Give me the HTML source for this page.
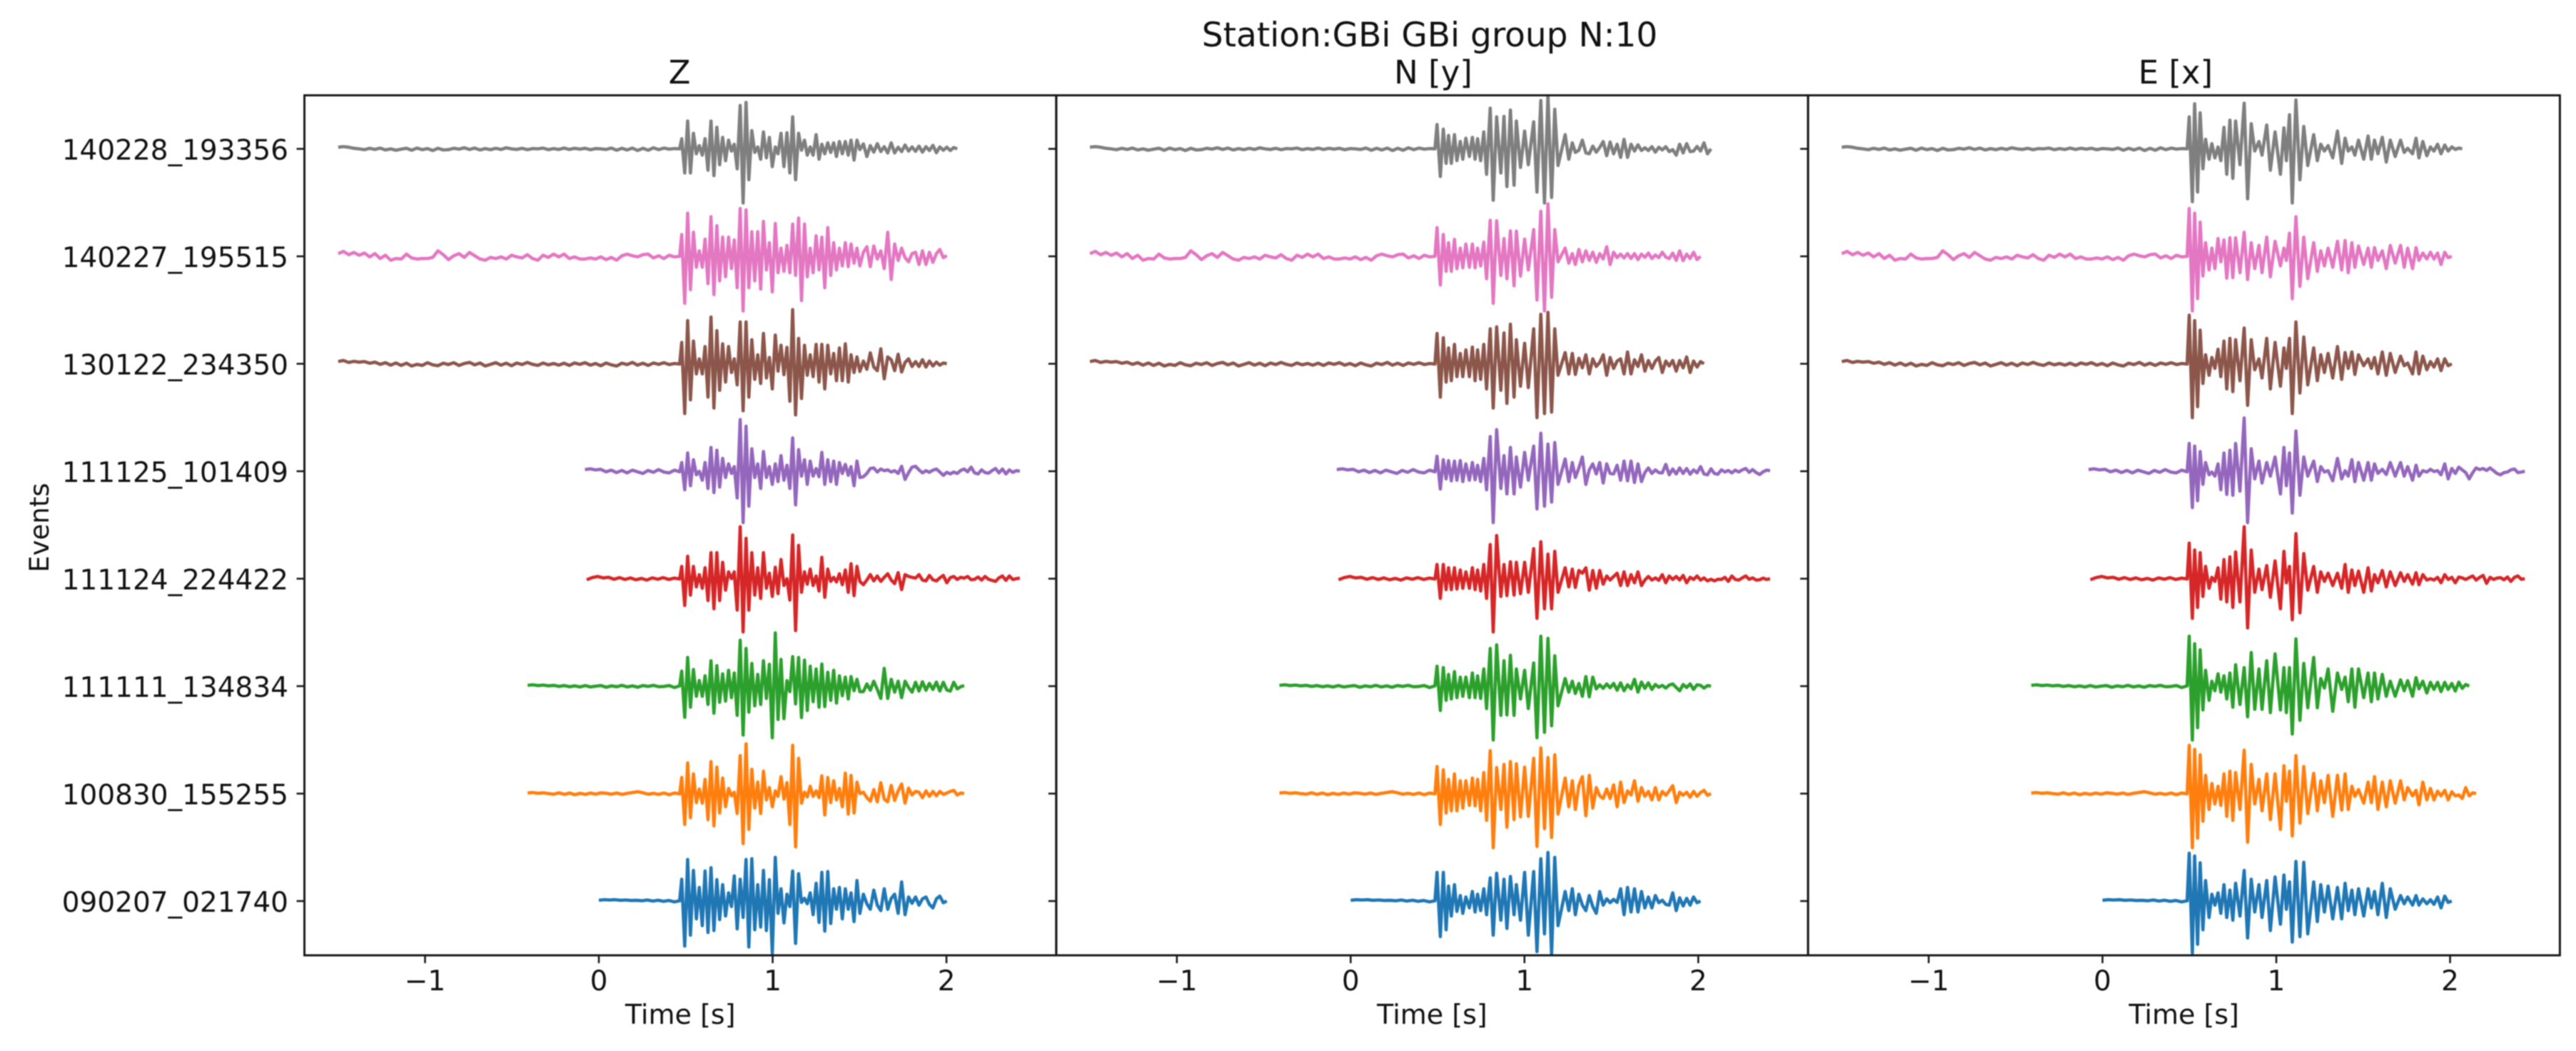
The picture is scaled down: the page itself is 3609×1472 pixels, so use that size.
<!DOCTYPE html>
<html lang="en">
<head>
<meta charset="utf-8">
<title>Station:GBi GBi group N:10</title>
<style>
html,body{margin:0;padding:0;background:#fff;}
svg{display:block;filter:blur(0.9px);font-family:"DejaVu Sans","Liberation Sans",sans-serif;fill:#111;}
</style>
</head>
<body>
<svg id="chart" xmlns="http://www.w3.org/2000/svg" width="3609" height="1472" viewBox="0 0 3609 1472">
  <rect x="0" y="0" width="3609" height="1472" fill="#fff"/>
  <text x="2003" y="65" font-size="47" text-anchor="middle">Station:GBi GBi group N:10</text>
  <text x="952" y="117" font-size="45" text-anchor="middle">Z</text>
  <text x="2008" y="117" font-size="45" text-anchor="middle">N [y]</text>
  <text x="3048" y="117" font-size="45" text-anchor="middle">E [x]</text>
  <text transform="translate(68,739) rotate(-90)" font-size="37" text-anchor="middle">Events</text>
  <g id="layer"></g>
</svg>
<script>
// ---------- categories and labels ----------
const eventLabels = ['090207_021740','100830_155255','111111_134834','111124_224422','111125_101409','130122_234350','140227_195515','140228_193356'];
const traceColors = ['#1f77b4','#ff7f0e','#2ca02c','#d62728','#9467bd','#8c564b','#e377c2','#7f7f7f'];
const timeTicks = [-1,0,1,2];
const startTimes = [0,-0.41,-0.41,-0.07,-0.08,-1.5,-1.5,-1.5];

// ---------- pre-onset noise per event (amplitude units) ----------
const noiseBlue = [3,5,4,5,3,4,2,3,1,4,0,3,-1,2,-3,1];
const noiseOrange = [2,4,1,3,0,-2,3,-3,2,-4,1,-3,2,-2,3,1,-2,2,-3,1,4,7,3,-2,1,-3,2,-4,2,-1];
const noiseGreen = [3,5,2,4,1,3,-1,2,-2,1,-3,2,-3,0,2,-4,1,-2,3,-3,1,-4,2,-1,3,-2,-1,2,-5,1];
const noiseRed = [-4,4,8,3,5,-2,4,-3,3,-4,1,-5,3,-2,4,-3,2,-1];
const noisePurple = [6,9,5,7,-2,4,-5,3,-6,4,-2,-8,3,-4,6,-3,-6,4,-2];
const noiseBrown = [8,12,5,9,6,8,2,6,-2,4,-5,3,-6,2,-8,-2,-6,4,-4,-7,2,-3,4,-6,1,5,-4,3,-8,-2,4,-5,2,-7,3,-3,5,-2,-6,3,-4,1,-5,2,-6,3,-2,4,-5,1,-7,3,-4,-8,2,-3,5,-5,2,-6,3,-2,4,-3,1,-1];
const noisePink = [10,18,6,14,4,12,-2,10,-8,4,-14,-8,-10,8,-6,-10,-8,-8,-4,20,6,-12,2,10,-4,14,2,-10,-14,-4,-8,-2,-10,4,-2,-6,6,-8,-14,4,-4,8,-2,8,-8,-2,-10,-10,-6,-10,-2,-12,-4,-14,2,8,2,-2,6,8,-6,2,-8,4,-2,0];
const noiseGray = [6,8,6,2,0,-3,2,-2,3,-4,0,-5,-1,2,-5,3,-3,1,-6,2,-4,-3,2,-1,4,-2,3,-4,1,-3,2,-2,4,0,-2,2,-3,1,0,3,-3,1,-2,3,-2,2,-1,2,-3,1,0,-2,3,-5,2,-4,3,-6,2,-5,4,-3,3,-1,1,0];
const preNoise = [noiseBlue,noiseOrange,noiseGreen,noiseRed,noisePurple,noiseBrown,noisePink,noiseGray];

// ---------- extrema sample times (s); samples past the end continue at tailStep ----------
const tailStep = 0.02;
const zTimes = [0.477,0.494,0.511,0.527,0.544,0.561,0.578,0.595,0.611,0.628,0.645,0.662,0.679,0.695,0.712,0.729,0.746,0.763,0.779,0.796,0.813,0.830,0.847,0.863,0.880,0.897,0.914,0.931,0.947,0.964,0.981,0.998,1.015,1.031,1.048,1.065,1.082,1.099,1.115,1.132,1.149,1.166,1.183,1.199,1.216,1.233,1.250,1.267,1.283,1.300,1.317,1.334,1.351,1.367,1.384,1.401,1.418,1.435,1.451,1.468,1.485,1.502];
const nTimes = [0.497,0.516,0.533,0.549,0.563,0.579,0.597,0.611,0.631,0.645,0.663,0.683,0.700,0.716,0.730,0.748,0.766,0.782,0.803,0.820,0.840,0.864,0.882,0.899,0.919,0.940,0.953,0.977,1.001,1.022,1.053,1.072,1.094,1.115,1.135,1.156,1.174,1.193,1.234,1.255,1.275,1.293];
const eTimes = [0.499,0.517,0.530,0.547,0.562,0.578,0.593,0.613,0.629,0.647,0.665,0.681,0.699,0.715,0.733,0.750,0.766,0.791,0.815,0.835,0.856,0.876,0.900,0.918,0.945,0.966,0.993,1.024,1.044,1.058,1.076,1.092,1.113,1.136,1.158,1.181,1.215,1.236,1.256,1.277,1.298,1.325,1.352,1.376,1.396,1.414,1.435,1.452,1.473,1.503,1.528,1.547,1.565,1.585,1.610,1.633,1.656,1.684,1.715,1.736,1.756,1.784,1.804,1.821,1.843,1.866,1.887,1.907,1.928,1.948,1.969,1.989,2.010];

// ---------- Z component amplitudes, bottom row to top row ----------
const zBlue = [80,-165,152,-125,112,-65,50,-90,110,-115,122,-108,78,-68,60,-55,30,-20,92,-102,80,-60,152,-168,155,-105,60,-95,112,-108,78,-190,160,-45,45,-80,25,-20,110,-155,100,-5,10,-10,30,-50,65,-78,105,-110,108,-82,45,-30,50,-65,45,-30,30,-75,75,-45,
 25,-10,-30,40,-15,-35,45,-30,10,25,-45,70,-50,15,-8,15,-15,8,15,-12,-25,8,18,-6,0];
const zOrange = [59,-113,112,-88,72,-33,17,-35,52,-95,117,-118,97,-71,57,-48,19,-8,5,-73,139,-183,182,-131,89,-53,42,-73,82,-23,22,-48,10,-10,62,-20,40,-113,177,-195,129,-35,5,-12,27,-10,10,-15,65,-78,59,-33,47,-23,19,-48,75,-75,67,-71,42,0,
 5,-15,-28,15,-30,40,-20,-30,30,-25,10,35,-35,20,-5,8,5,-15,10,-10,8,-8,8,-3,2,8,12,-5,2,0];
const zGreen = [55,-114,105,-77,61,-37,21,-37,38,-67,93,-99,75,-59,45,-55,58,-42,48,-107,168,-179,138,-95,83,-72,43,-67,93,-45,80,-189,195,-122,98,-119,20,-20,108,-65,105,-115,95,-89,73,-57,63,-77,81,-75,51,-52,58,-62,38,-35,33,-47,35,-17,25,-20,
 -20,8,-15,18,-12,-45,65,-45,25,-22,18,-42,18,-5,-22,14,-18,16,-15,10,-12,15,-18,14,-14,-18,14,-10,-2,2];
const zRed = [45,-98,82,-60,45,-30,15,-35,40,-80,95,-110,95,-80,60,-42,25,0,25,-115,190,-195,148,-115,95,-60,40,-72,95,-35,20,-65,42,-55,70,-25,0,-78,160,-190,122,-50,25,-20,35,-25,10,-45,78,-68,35,-10,5,-12,18,-22,32,-50,55,-62,45,-10,
 -22,-5,15,-8,10,-10,5,18,-5,-18,22,-40,15,8,5,2,15,-5,-8,12,-4,-8,3,12,-15,4,8,-3,5,2,8,-4,-2,6,-5,8,-2,-6,-10,3,10,-6,10,-3,0,2];
const zPurple = [32,-68,67,-53,42,-13,0,-33,32,-63,87,-78,77,-58,47,-23,27,-8,17,-98,189,-188,165,-128,82,-23,27,-63,72,-23,17,-48,27,-38,57,-33,22,-63,122,-123,79,-18,42,-48,37,-18,10,-20,69,-48,42,-38,37,-48,32,-8,25,-15,17,-53,37,-23,
 -20,-8,10,12,-3,8,2,5,-3,2,-8,18,-30,-5,15,18,5,-6,2,-4,4,8,-3,-15,-4,-10,-3,-8,3,8,-2,15,-6,-10,5,-5,-7,2,10,-6,8,-10,5,-4,2,0];
const zBrown = [78,-182,158,-132,83,-37,18,-37,63,-122,171,-162,121,-97,73,-67,63,-32,18,-77,153,-172,153,-122,88,-57,33,-72,111,-52,23,-92,105,-27,68,-40,60,-137,198,-187,93,-127,68,-42,33,-47,71,-67,71,-92,68,-37,38,-62,58,-62,73,-67,33,-32,25,-28,
 10,-20,40,-12,-25,55,-55,25,15,-25,35,-30,5,18,-10,8,-10,15,-12,10,-8,6,-5,3,0];
const zPink = [80,-172,158,-122,88,-40,20,-40,63,-100,145,-140,112,-90,70,-75,70,-45,60,-115,175,-200,170,-115,90,-90,90,-120,128,-50,50,-130,120,-60,30,-55,40,-60,118,-70,140,-162,118,-75,30,-60,75,-50,70,-115,105,-70,50,-50,30,-35,50,-38,45,-25,30,-35,
 15,35,-38,38,-10,20,-45,88,-85,45,-15,30,-5,-20,10,15,-30,20,-30,15,-22,10,25,-5,3];
const zGray = [37,-88,102,-88,57,-18,12,-23,37,-78,102,-98,79,-58,42,-43,32,-8,17,-73,159,-198,170,-113,67,-13,7,-38,62,-33,42,-65,7,-18,57,-65,59,-88,117,-113,57,-5,32,-23,7,-23,52,-38,17,-18,22,-13,22,-28,27,-18,27,-23,32,-41,32,-3,
 18,-28,12,-12,19,-10,8,-15,22,-15,6,-10,14,-8,7,-9,10,-12,8,-6,13,-14,7,-5,6,-6,5,0];
const zTraces = [zBlue,zOrange,zGreen,zRed,zPurple,zBrown,zPink,zGray];

// ---------- N component amplitudes ----------
const nBlue = [105,-130,105,-105,55,-55,60,-38,20,-45,15,-25,35,-40,25,-35,45,-50,85,-125,102,-70,80,-100,90,-50,60,-70,105,-125,108,-185,155,-120,178,-195,160,-90,35,-35,45,-50,
 25,-15,-35,20,-20,-45,35,-15,8,-6,6,-5,45,-50,50,-40,45,-40,35,-25,15,-25,20,-6,3,-12,-15,30,-35,12,-18,10,-15,15,-6,0];
const nOrange = [99,-113,87,-71,52,-63,72,-63,47,-53,47,-43,57,-45,52,-63,77,-98,157,-198,95,-58,107,-123,117,-95,109,-85,97,-83,129,-193,167,-128,132,-161,142,-75,57,-48,47,-58,
 30,62,-81,67,-53,22,-8,-18,17,-18,32,-48,42,-33,10,-5,47,-28,22,-10,8,-23,22,-23,8,-6,10,29,-33,5,-6,5,-13,8,-10,4,12,-6,0];
const nGreen = [73,-89,68,-52,43,-47,53,-42,33,-37,33,-42,48,-42,38,-45,63,-82,138,-197,151,-107,93,-105,113,-107,63,-47,58,-82,85,-189,183,-169,175,-145,111,-72,28,-22,18,-27,
 10,-37,35,-39,33,-10,5,-8,8,-6,10,-15,12,-17,5,-10,25,-22,15,-8,12,-12,6,-4,3,-7,4,8,-5,-17,6,-5,8,-12,5,3,-7,2,0];
const nRed = [52,-72,52,-40,40,-40,40,-38,32,-35,25,-35,40,-40,32,-45,52,-72,125,-195,158,-65,52,-62,62,-60,60,-55,60,-50,110,-145,135,-110,90,-110,100,-50,40,-30,35,-32,
 30,20,40,-42,30,-35,30,-20,10,-5,8,20,-25,25,-25,15,-15,25,-25,-5,8,-5,3,-6,15,-15,10,-3,8,-5,12,-15,5,-3,10,-5,3,-8,-2,-8,-2,-3,5,-10,10,-3,-5,3,10,-2,3,-5,-4,2,-3,0];
const nPurple = [55,-65,42,-28,39,-35,37,-33,39,-38,27,-33,32,-31,22,-38,47,-68,127,-188,152,-63,57,-83,87,-83,52,-58,69,-33,92,-138,139,-128,99,-113,105,-48,45,-38,32,-23,
 12,52,-48,5,27,-10,32,-43,27,-8,-10,22,-33,37,-35,37,-41,27,-38,-5,12,-8,5,-5,-6,25,-13,8,-10,12,-8,10,-11,5,-6,17,-10,-13,9,-8,-11,5,-3,3,-6,4,-3,5,10,-4,6,-5,-12,-2,4,2];
const nBrown = [111,-122,95,-67,58,-62,71,-47,38,-47,51,-47,61,-62,51,-57,71,-92,128,-162,135,-97,113,-145,145,-122,88,-82,75,-87,128,-197,181,-182,188,-177,128,-42,41,-37,38,-39,
 20,-15,33,-37,18,-10,5,33,-42,23,-17,10,18,-37,43,-37,15,-10,33,-27,12,-17,10,23,-32,10,-8,12,-27,12,-15,25,-32,10,-12,8,0];
const nPink = [105,-105,80,-55,50,-55,62,-45,30,-42,45,-40,45,-42,30,-35,52,-82,132,-172,130,-70,65,-82,93,-108,92,-72,63,-50,98,-160,165,-200,192,-150,98,-20,30,-25,10,-30,
 25,-20,20,-15,15,-22,10,-10,35,-30,15,-5,8,-6,10,-8,10,-12,8,-4,12,-8,5,-5,15,-3,-8,12,-15,20,-16,8,-8,15,-12,0];
const nGray = [89,-101,72,-53,49,-53,52,-43,27,-38,39,-28,42,-38,37,-43,62,-93,149,-188,117,-88,119,-138,142,-133,102,-68,65,-58,99,-158,177,-198,195,-178,145,-61,52,-38,22,-13,
 -5,32,-15,-18,10,-12,5,27,-25,25,-18,17,-31,35,-31,17,-8,15,-6,4,-6,8,-12,6,-4,8,-10,-3,-23,17,-15,19,-10,-8,9,-8,22,-18,0];
const nTraces = [nBlue,nOrange,nGreen,nRed,nPurple,nBrown,nPink,nGray];

// ---------- E component amplitudes ----------
const eBlue = [175,-190,165,-158,140,-105,75,-60,25,-15,30,-45,60,-60,40,-70,65,-55,112,-135,80,-40,60,-60,75,-108,88,-85,95,-30,70,-150,145,-130,142,-120,70,-75,60,-40,55,-65,50,-65,65,-35,40,-50,45,-55,45,-25,35,-50,65,-60,45,-30,20,-10,15,-15,20,-15,8,-10,5,-12,15,-25,18,-5,0];
const eOrange = [177,-198,162,-163,142,-101,67,-58,37,-38,27,-43,72,-83,82,-98,77,-58,159,-178,107,-38,52,-63,72,-95,72,-131,102,-28,82,-155,139,-108,99,-73,74,-63,47,-33,67,-83,67,-60,72,-58,27,-10,15,-35,42,-33,62,-58,42,-48,47,-35,47,-23,22,-8,12,-41,42,-23,19,-23,9,-8,12,-23,7,-8,-5,
 -18,22,-8,3,0];
const eGreen = [183,-197,155,-152,133,-87,58,-52,18,-17,45,-22,38,-47,48,-77,78,-67,68,-112,123,-85,63,-85,93,-97,118,-87,68,-97,68,-175,173,-125,83,-79,105,-79,28,-7,63,-92,48,-12,33,-57,63,-77,63,-42,48,-57,48,-47,43,-37,18,-37,23,-17,20,-37,31,-10,18,-25,14,-12,14,-20,14,-12,10,
 -18,15,-8,6,0];
const eRed = [130,-145,105,-105,95,-65,45,-35,5,-10,40,-75,70,-85,80,-105,98,-85,190,-180,105,-50,35,-40,48,-68,65,-110,100,-15,45,-150,165,-125,92,-42,45,-50,25,-10,20,-25,20,-35,52,-50,32,-25,28,-50,40,-45,15,-15,30,-30,25,-25,22,-10,15,-20,22,-22,15,-5,0,-5,5,-15,15,-3,5,
 -15,6,3,-3,4,10,-5,5,12,-17,5,-3,2,4,-4,6,-10,5,10,-2,0];
const ePurple = [102,-133,92,-108,72,-48,32,-13,-3,-18,27,-68,67,-85,77,-88,102,-73,195,-188,82,-28,37,-43,32,-18,52,-83,87,-53,67,-153,147,-88,52,-18,37,-38,17,-3,2,-35,47,-28,2,-18,42,-38,32,-33,32,-33,27,-8,7,-12,32,-18,32,-18,17,-33,22,-18,2,-3,7,-1,2,-13,27,-28,10,
 -8,15,5,-5,-28,-5,12,6,10,3,12,2,-8,-13,-5,-3,5,8,-5,-3,0];
const eBrown = [178,-197,158,-157,123,-72,33,-42,23,-17,53,-47,83,-92,93,-102,88,-62,131,-152,88,-22,18,-52,93,-92,78,-82,58,-17,93,-182,153,-107,98,-77,58,-62,33,-32,38,-52,63,-57,41,-17,43,-39,33,-7,18,-17,23,-37,43,-42,38,-32,28,-7,3,-37,43,-37,28,-22,8,-12,18,-25,18,-7,0];
const ePink = [175,-200,158,-155,125,-72,50,-50,30,-45,65,-20,60,-80,68,-78,68,-60,88,-85,50,-45,40,-60,70,-75,55,-35,30,-15,85,-155,145,-110,70,-82,50,-55,20,-35,30,-40,55,-50,58,-60,50,-40,38,-30,30,-40,32,-15,20,-45,40,-25,40,-40,30,-45,32,-15,12,-10,15,-10,12,-30,15,-5,0];
const eGray = [117,-193,165,-158,132,-73,35,-38,19,-33,7,-43,79,-93,105,-108,102,-58,167,-183,92,-8,27,-23,87,-78,62,-93,77,-43,125,-198,179,-113,82,-61,52,-43,17,-8,12,-33,65,-53,39,-8,7,-23,32,-38,47,-38,32,-18,42,-48,32,-28,32,-13,2,-18,39,-33,27,-25,7,-8,17,-18,14,-8,7,
 -2,3,0];
const eTraces = [eBlue,eOrange,eGreen,eRed,ePurple,eBrown,ePink,eGray];

const panelKeys = ['z','n','e'];
const panelTimes = [zTimes,nTimes,eTimes];
const panelTraces = [zTraces,nTraces,eTraces];

// ---------- axis functions ----------
const NS = 'http://www.w3.org/2000/svg';
const layer = document.getElementById('layer');
const plotLeft = 426.5, plotWidth = 1053.3, plotTop = 133.5, plotBottom = 1338;
const zeroOffset = 412.5, secondPx = 243.5;
const rowBase = 1262, rowPx = 150.5, ampPx = 0.3827;
function xAxis(panel, t){ return plotLeft + panel*plotWidth + zeroOffset + t*secondPx; }
function yRow(row){ return rowBase - row*rowPx; }
function yAmp(row, a){ return yRow(row) - a*ampPx; }
function sampleTime(times, i){
  return i < times.length ? times[i] : times[times.length-1] + (i-times.length+1)*tailStep;
}
function make(tag, parent){
  const el = document.createElementNS(NS, tag);
  parent.appendChild(el);
  return el;
}

const defs = make('defs', layer);
panelKeys.forEach(function(key, p){
  const clip = make('clipPath', defs);
  clip.setAttribute('id', 'clip-' + key);
  const r = make('rect', clip);
  r.setAttribute('x', plotLeft + p*plotWidth);
  r.setAttribute('y', plotTop);
  r.setAttribute('width', plotWidth);
  r.setAttribute('height', plotBottom - plotTop);

  // traces
  const group = make('g', layer);
  
  
  group.setAttribute('clip-path', 'url(#clip-' + key + ')');
  panelTraces[p].forEach(function(values, row){
    const times = panelTimes[p];
    const noise = preNoise[row];
    const start = startTimes[row];
    const preStep = (times[0] - 0.012 - start) / (noise.length - 1);
    const pts = [];
    noise.forEach(function(a, k){
      pts.push(xAxis(p, start + k*preStep).toFixed(1) + ',' + yAmp(row, a).toFixed(1));
    });
    values.forEach(function(a, i){
      pts.push(xAxis(p, sampleTime(times, i)).toFixed(1) + ',' + yAmp(row, a).toFixed(1));
    });
    const line = make('polyline', group);
    
    
    line.setAttribute('points', pts.join(' '));
    line.setAttribute('fill', 'none');
    line.setAttribute('stroke', traceColors[row]);
    line.setAttribute('stroke-width', '4.6');
    line.setAttribute('stroke-linejoin', 'round');
  });

  // frame
  const frame = make('rect', layer);
  
  
  frame.setAttribute('x', plotLeft + p*plotWidth);
  frame.setAttribute('y', plotTop);
  frame.setAttribute('width', plotWidth);
  frame.setAttribute('height', plotBottom - plotTop);
  frame.setAttribute('fill', 'none');
  frame.setAttribute('stroke', '#1a1a1a');
  frame.setAttribute('stroke-width', '3');

  // x ticks
  timeTicks.forEach(function(t){
    const x = xAxis(p, t);
    const tick = make('line', layer);
    
    
    tick.setAttribute('x1', x);
    tick.setAttribute('x2', x);
    tick.setAttribute('y1', plotBottom);
    tick.setAttribute('y2', plotBottom + 11);
    tick.setAttribute('stroke', '#1a1a1a');
    tick.setAttribute('stroke-width', '2.6');
    const label = make('text', layer);
    
    
    label.setAttribute('x', x);
    label.setAttribute('y', 1387);
    label.setAttribute('font-size', '39');
    label.setAttribute('text-anchor', 'middle');
    label.textContent = t < 0 ? '\u2212' + Math.abs(t) : String(t);
  });

  // x axis title
  const xTitle = make('text', layer);
  
  
  xTitle.setAttribute('x', plotLeft + p*plotWidth + plotWidth/2);
  xTitle.setAttribute('y', 1434);
  xTitle.setAttribute('font-size', '38');
  xTitle.setAttribute('text-anchor', 'middle');
  xTitle.textContent = 'Time [s]';

  // y ticks
  eventLabels.forEach(function(name, row){
    const y = yRow(row);
    const tick = make('line', layer);
    
    
    tick.setAttribute('x1', plotLeft + p*plotWidth - 11);
    tick.setAttribute('x2', plotLeft + p*plotWidth);
    tick.setAttribute('y1', y);
    tick.setAttribute('y2', y);
    tick.setAttribute('stroke', '#1a1a1a');
    tick.setAttribute('stroke-width', '2.6');
    if (p === 0) {
      const label = make('text', layer);
      
      
      label.setAttribute('x', 404);
      label.setAttribute('y', y + 15);
      label.setAttribute('font-size', '39');
      label.setAttribute('text-anchor', 'end');
      label.textContent = name;
    }
  });
});
</script>
</body>
</html>
